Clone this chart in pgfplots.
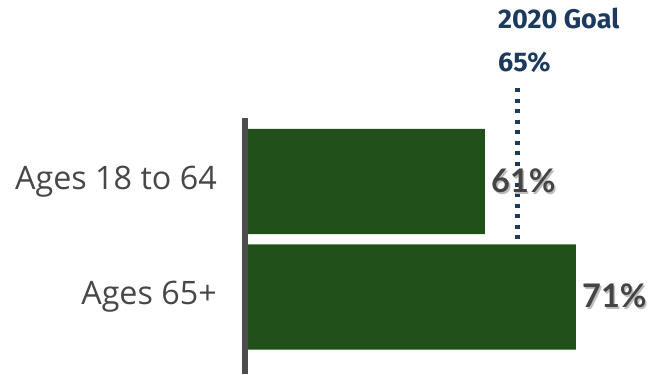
\documentclass[border=0pt]{standalone}
\usepackage{pgfplots}
\pgfplotsset{compat=1.18}
\usepackage{fontspec}
\setmainfont{Open Sans}
\newfontfamily\latofont{Lato}
\newfontfamily\firafont{Fira Sans}
\definecolor{bargreen}{HTML}{21501A}
\definecolor{goalblue}{HTML}{1B3A5E}
\definecolor{valgray}{HTML}{444444}
\definecolor{shadowgray}{HTML}{BDBDBD}
\definecolor{labgray}{HTML}{474747}
\definecolor{axgray}{HTML}{4D4D4D}
\newcommand{\shtext}[1]{\makebox[0pt][l]{\hspace{1.6bp}\raisebox{-1.6bp}{\color{shadowgray}#1}}{\color{valgray}#1}}
\begin{document}
\begin{tikzpicture}
\useasboundingbox (0,0) rectangle (659bp,375bp);
\begin{axis}[
  at={(245bp,1bp)}, anchor=south west, scale only axis,
  width=412.9bp, height=286bp,
  xmin=34.63, xmax=80, ymin=-0.81, ymax=1.667, y dir=reverse,
  hide x axis, axis y line*=left, y axis line style={draw=none},
  ytick={0,1}, yticklabels={Ages 18 to 64, Ages 65+},
  major tick length=0,
  yticklabel style={font=\fontsize{32.3bp}{34bp}\selectfont, text=labgray, anchor=east, inner sep=0pt, xshift=-28bp},
  xbar, bar width=0.91,
  /pgf/number format/assume math mode=true,
]
\addplot[goalblue, line width=4.8bp, dash pattern=on 4.4bp off 6.1bp, forget plot, xbar=false, sharp plot] coordinates {(64.6,-0.81) (64.6,0.532)};
\addplot[fill=bargreen, draw=none,
  point meta=x,
  nodes near coords={\shtext{\pgfmathprintnumber{\pgfplotspointmeta}\%}},
  nodes near coords style={font=\latofont\bfseries\fontsize{32.5bp}{33bp}\selectfont, anchor=west, inner sep=0pt, xshift=6bp}]
  coordinates {(61,0) (71,1)};
\coordinate (atop) at (axis cs:34.63,-0.55);
\coordinate (abot) at (axis cs:34.63,1.667);
\end{axis}
\draw[axgray, line width=5.7bp] (atop) -- (abot);
\node[anchor=base west, inner sep=0pt, text=goalblue, font=\firafont\bfseries\fontsize{27bp}{28bp}\selectfont] at (498bp,346bp) {2020 Goal};
\node[anchor=base west, inner sep=0pt, text=goalblue, font=\firafont\bfseries\fontsize{27bp}{28bp}\selectfont] at (498bp,303bp) {65\%};
\end{tikzpicture}
\end{document}
